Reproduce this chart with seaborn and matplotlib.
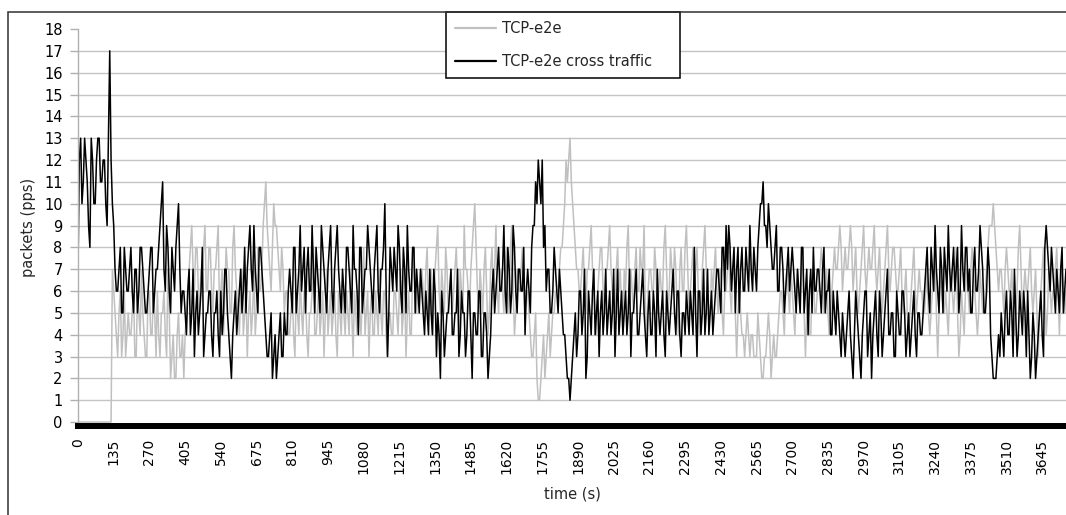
import numpy as np
import pandas as pd
import matplotlib
matplotlib.use("Agg")
import matplotlib.pyplot as plt
from matplotlib.patches import Rectangle
import seaborn as sns

# ---- data ----
# samples at t = 0, 10, 20, ... s  and the in-between samples at t = 5, 15, 25, ... s
half_step = 5
cross_traffic = [
    7, 13, 11, 12, 9, 13, 10, 12, 13, 11,
    12, 9, 17, 10, 7, 6, 8, 5, 7, 6,
    8, 5, 7, 6, 8, 6, 5, 7, 8, 6,
    7, 9, 11, 6, 8, 5, 7, 8, 10, 5,
    6, 4, 7, 5, 3, 6, 5, 8, 4, 5,
    6, 3, 5, 4, 6, 5, 7, 4, 2, 5,
    4, 6, 5, 8, 7, 9, 6, 7, 5, 8,
    6, 4, 3, 5, 3, 2, 4, 3, 5, 4,
    7, 5, 8, 6, 9, 7, 5, 8, 6, 7,
    8, 6, 9, 7, 5, 8, 6, 7, 9, 6,
    7, 5, 8, 6, 9, 7, 4, 8, 6, 7,
    8, 6, 7, 9, 5, 7, 10, 3, 8, 6,
    7, 9, 6, 8, 5, 7, 6, 8, 7, 5,
    6, 4, 5, 7, 4, 6, 5, 2, 5, 4,
    5, 7, 4, 5, 3, 6, 5, 4, 6, 2,
    5, 4, 6, 3, 5, 2, 4, 7, 6, 8,
    6, 9, 5, 7, 6, 8, 5, 7, 6, 4,
    7, 5, 9, 11, 12, 10, 8, 6, 7, 5,
    8, 6, 7, 5, 4, 2, 1, 3, 5, 4,
    6, 5, 2, 6, 4, 7, 5, 3, 6, 5,
    4, 6, 5, 3, 7, 5, 4, 6, 5, 3,
    5, 7, 4, 6, 5, 3, 6, 4, 5, 7,
    4, 6, 3, 5, 5, 7, 4, 6, 3, 5,
    6, 4, 5, 8, 3, 6, 5, 4, 7, 5,
    4, 6, 7, 5, 8, 9, 9, 6, 8, 7,
    5, 8, 6, 7, 9, 6, 7, 8, 10, 11,
    9, 10, 8, 7, 9, 6, 8, 5, 7, 6,
    8, 6, 7, 5, 8, 6, 4, 7, 8, 6,
    7, 5, 8, 6, 7, 4, 5, 6, 4, 5,
    3, 5, 4, 2, 6, 4, 2, 5, 6, 4,
    2, 5, 4, 6, 3, 5, 7, 4, 5, 3,
    5, 4, 6, 3, 5, 4, 6, 3, 5, 4,
    6, 8, 5, 7, 9, 6, 8, 5, 7, 9,
    6, 8, 7, 5, 9, 6, 8, 7, 5, 8,
    6, 9, 7, 5, 8, 4, 2, 2, 4, 5,
    3, 6, 4, 5, 7, 3, 6, 4, 5, 6,
    2, 5, 2, 4, 6, 3, 9, 7, 8, 6,
    7, 5, 8, 6,
]
cross_traffic_mid = [
    12, 10, 13, 11, 8, 12, 10, 13, 11, 12,
    10, 13, 12, 9, 6, 7, 5, 8, 6, 7,
    6, 7, 5, 8, 7, 5, 6, 8, 5, 7,
    8, 10, 7, 9, 6, 8, 6, 9, 7, 6,
    5, 6, 4, 7, 5, 4, 6, 3, 5, 6,
    4, 5, 6, 3, 4, 7, 5, 3, 4, 6,
    5, 7, 6, 5, 8, 7, 9, 6, 8, 7,
    5, 3, 4, 2, 4, 3, 5, 3, 4, 6,
    6, 8, 5, 7, 6, 8, 7, 6, 9, 5,
    7, 5, 8, 6, 7, 9, 5, 8, 7, 5,
    6, 8, 7, 5, 7, 6, 8, 5, 7, 9,
    7, 5, 8, 6, 7, 8, 6, 5, 7, 8,
    6, 8, 5, 7, 9, 6, 8, 5, 6, 7,
    5, 6, 4, 5, 7, 3, 4, 6, 3, 5,
    6, 4, 5, 7, 4, 5, 3, 6, 4, 5,
    4, 6, 3, 5, 4, 3, 6, 5, 7, 6,
    7, 6, 8, 5, 9, 6, 7, 6, 8, 6,
    6, 8, 9, 10, 11, 12, 9, 7, 5, 6,
    7, 5, 6, 4, 3, 2, 2, 4, 3, 6,
    4, 7, 3, 5, 6, 4, 6, 5, 4, 7,
    5, 4, 7, 5, 4, 6, 5, 4, 7, 5,
    6, 4, 5, 7, 4, 5, 4, 6, 3, 5,
    5, 4, 6, 4, 6, 5, 6, 4, 5, 4,
    5, 6, 4, 5, 6, 4, 7, 5, 4, 6,
    5, 7, 6, 8, 6, 7, 8, 7, 5, 8,
    7, 6, 8, 6, 7, 8, 6, 9, 10, 9,
    8, 9, 7, 8, 6, 8, 7, 6, 8, 7,
    7, 5, 6, 8, 5, 7, 6, 5, 6, 7,
    6, 7, 5, 6, 4, 6, 4, 5, 3, 4,
    4, 6, 3, 4, 5, 3, 4, 6, 3, 5,
    4, 6, 3, 5, 4, 6, 4, 5, 3, 6,
    4, 6, 5, 4, 3, 5, 4, 5, 4, 5,
    7, 6, 8, 6, 7, 5, 7, 8, 6, 7,
    7, 6, 8, 6, 7, 8, 6, 5, 7, 6,
    7, 8, 5, 6, 7, 3, 2, 3, 3, 4,
    5, 4, 6, 3, 5, 4, 5, 6, 3, 4,
    3, 4, 3, 5, 4, 8, 8, 6, 7, 5,
    6, 7, 5, 7,
]
tcp_e2e = [
    0, 0, 0, 0, 0, 0, 0, 0, 0, 0,
    0, 0, 0, 7, 5, 3, 6, 4, 3, 5,
    4, 6, 3, 5, 7, 4, 3, 6, 4, 5,
    6, 3, 5, 4, 7, 2, 4, 2, 5, 3,
    2, 5, 7, 9, 6, 8, 5, 7, 9, 6,
    8, 5, 7, 9, 6, 4, 8, 7, 5, 9,
    6, 4, 7, 5, 3, 6, 5, 4, 8, 6,
    9, 11, 8, 6, 10, 9, 7, 8, 5, 6,
    4, 6, 3, 5, 7, 4, 6, 3, 5, 8,
    4, 6, 5, 3, 7, 5, 4, 6, 3, 5,
    6, 4, 5, 7, 3, 5, 6, 4, 8, 5,
    3, 6, 4, 5, 7, 4, 6, 3, 5, 4,
    6, 4, 7, 5, 3, 6, 4, 8, 5, 6,
    7, 5, 8, 6, 4, 7, 9, 5, 6, 8,
    5, 7, 6, 8, 4, 6, 9, 7, 5, 8,
    10, 6, 7, 5, 8, 4, 7, 6, 9, 5,
    7, 5, 8, 6, 9, 4, 7, 6, 8, 5,
    6, 4, 3, 5, 1, 2, 4, 3, 5, 4,
    5, 6, 7, 8, 10, 11, 13, 10, 8, 7,
    6, 8, 5, 7, 9, 6, 4, 7, 8, 5,
    7, 9, 6, 5, 8, 7, 4, 6, 9, 7,
    5, 8, 6, 7, 9, 4, 7, 6, 8, 5,
    7, 6, 9, 5, 8, 6, 7, 4, 8, 6,
    9, 5, 7, 6, 8, 4, 7, 9, 6, 5,
    6, 8, 5, 7, 4, 6, 8, 5, 7, 3,
    6, 4, 3, 5, 3, 4, 3, 5, 3, 2,
    3, 5, 2, 4, 3, 5, 6, 4, 7, 5,
    6, 4, 7, 5, 8, 3, 6, 4, 7, 5,
    6, 8, 5, 7, 4, 6, 8, 7, 9, 6,
    8, 7, 9, 6, 8, 5, 7, 9, 6, 8,
    7, 9, 6, 8, 5, 7, 9, 6, 8, 7,
    6, 8, 5, 7, 4, 6, 8, 5, 7, 6,
    5, 7, 4, 6, 8, 3, 7, 5, 6, 4,
    7, 5, 8, 3, 6, 4, 7, 5, 8, 6,
    4, 7, 5, 6, 8, 9, 10, 8, 6, 7,
    5, 8, 6, 7, 4, 6, 9, 5, 7, 6,
    8, 5, 7, 3, 6, 8, 4, 7, 5, 6,
    8, 4, 7, 5,
]
tcp_e2e_mid = [
    0, 0, 0, 0, 0, 0, 0, 0, 0, 0,
    0, 0, 0, 6, 4, 5, 3, 6, 4, 4,
    5, 3, 6, 4, 5, 3, 6, 4, 6, 3,
    4, 5, 6, 3, 5, 3, 2, 4, 3, 4,
    4, 6, 8, 7, 8, 6, 7, 8, 6, 8,
    6, 7, 8, 5, 7, 6, 7, 5, 8, 7,
    5, 6, 4, 6, 5, 4, 7, 5, 6, 7,
    10, 9, 7, 8, 9, 8, 6, 7, 6, 4,
    5, 4, 6, 4, 5, 6, 4, 5, 6, 4,
    5, 4, 6, 5, 4, 6, 5, 4, 6, 4,
    5, 6, 4, 5, 6, 4, 5, 6, 4, 6,
    5, 4, 6, 4, 5, 6, 4, 5, 4, 6,
    5, 6, 4, 6, 5, 4, 7, 5, 6, 7,
    6, 7, 5, 7, 6, 8, 6, 7, 5, 7,
    6, 5, 7, 6, 7, 5, 7, 6, 7, 9,
    8, 5, 6, 7, 6, 5, 8, 7, 6, 7,
    6, 7, 5, 8, 6, 5, 6, 7, 6, 6,
    5, 3, 4, 2, 1, 3, 2, 4, 3, 5,
    6, 6, 8, 9, 12, 12, 11, 9, 7, 6,
    7, 6, 7, 8, 7, 5, 6, 8, 6, 7,
    8, 7, 5, 7, 6, 5, 7, 8, 6, 6,
    7, 6, 8, 7, 5, 6, 7, 6, 7, 6,
    6, 8, 7, 6, 7, 8, 5, 7, 6, 8,
    7, 6, 8, 7, 6, 5, 8, 7, 5, 7,
    7, 6, 7, 5, 6, 7, 6, 7, 5, 5,
    5, 4, 4, 4, 4, 3, 3, 4, 2, 3,
    4, 4, 3, 3, 4, 6, 5, 6, 6, 7,
    5, 6, 6, 7, 5, 5, 4, 6, 5, 6,
    7, 7, 6, 5, 5, 7, 7, 8, 8, 7,
    7, 8, 8, 7, 6, 6, 8, 7, 7, 7,
    8, 7, 7, 6, 6, 8, 7, 7, 8, 6,
    7, 6, 6, 5, 5, 7, 6, 6, 6, 5,
    6, 5, 5, 7, 5, 5, 6, 5, 5, 6,
    6, 6, 5, 4, 5, 6, 6, 7, 7, 5,
    5, 6, 5, 7, 9, 9, 9, 7, 7, 6,
    7, 7, 6, 5, 5, 8, 7, 6, 6, 7,
    6, 6, 5, 5, 7, 6, 5, 6, 6, 7,
    6, 6, 6, 6,
]
series_names = ["TCP-e2e", "TCP-e2e cross traffic"]
x_ticks = list(range(0, 3646, 135))
y_ticks = list(range(0, 19))


def interleave(a, b):
    out = np.empty(len(a) + len(b))
    out[0::2] = a
    out[1::2] = b
    return out


gray_vals = interleave(tcp_e2e, tcp_e2e_mid)
black_vals = interleave(cross_traffic, cross_traffic_mid)
n = len(gray_vals)
times = np.arange(n) * half_step
df = pd.DataFrame({
    "time": np.concatenate([times, times]),
    "value": np.concatenate([gray_vals, black_vals]),
    "series": [series_names[0]] * n + [series_names[1]] * n,
})

sns.set_style("white")
plt.rcParams["font.family"] = ["DejaVu Sans"]

fig = plt.figure(figsize=(10.66, 5.15), dpi=100)
W, H = 1066, 515
ax = fig.add_axes([78 / W, 1 - 426 / H, (1066 - 78) / W, (426 - 29) / H])

sns.lineplot(data=df, x="time", y="value", hue="series", hue_order=series_names,
             palette={series_names[0]: "#c0c0c0", series_names[1]: "black"},
             estimator=None, linewidth=1.1, ax=ax)

ax.set_xlim(0, 3735)
ax.set_ylim(-0.18, 18)
ax.set_yticks(y_ticks)
ax.set_xticks(x_ticks)
ax.set_xticklabels([str(v) for v in x_ticks], rotation=90, fontsize=10)
ax.set_yticklabels([str(v) for v in y_ticks], fontsize=10.5)

ax.yaxis.grid(True, color="#c4c4c4", linewidth=1.0)
ax.xaxis.grid(False)
gl = ax.yaxis.get_gridlines()
gl[0].set_visible(False)
gl[-1].set_visible(False)
ax.set_axisbelow(True)

for s in ("top", "right"):
    ax.spines[s].set_visible(False)
ax.spines["left"].set_color("#b0b0b0")
ax.spines["left"].set_linewidth(1.0)
ax.spines["bottom"].set_color("black")
ax.spines["bottom"].set_linewidth(4.3)
ax.spines["bottom"].set_zorder(5)

ax.tick_params(axis="y", which="both", left=True, length=6, width=1.0,
               color="#b0b0b0", pad=5, labelcolor="black")
ax.tick_params(axis="x", which="both", bottom=False, length=0, pad=9, labelcolor="black")

ax.set_xlabel("time (s)", fontsize=10.5)
ax.set_ylabel("packets (pps)", fontsize=10.5)
ax.xaxis.set_label_coords(0.5, -0.152)
ax.yaxis.set_label_coords(-0.043, 0.5)

handles, labels = ax.get_legend_handles_labels()
for h in handles:
    h.set_linewidth(1.6)
leg = ax.legend(handles, labels, loc="upper left",
                bbox_to_anchor=(446 / W, 1 - 76 / H, 234 / W, 64 / H),
                bbox_transform=fig.transFigure, mode="expand", borderaxespad=0,
                fontsize=10.5, frameon=True, fancybox=False, framealpha=1,
                edgecolor="black", handlelength=2.8, handletextpad=0.45,
                borderpad=0.6, labelspacing=1.25)
leg.get_frame().set_linewidth(1.1)

fig.add_artist(Rectangle((8 / W, -0.1), 1.2, 1 - 12 / H + 0.1,
                         transform=fig.transFigure, fill=False,
                         edgecolor="#303030", linewidth=1.1))

fig.savefig("out.png", dpi=100, facecolor="white")
